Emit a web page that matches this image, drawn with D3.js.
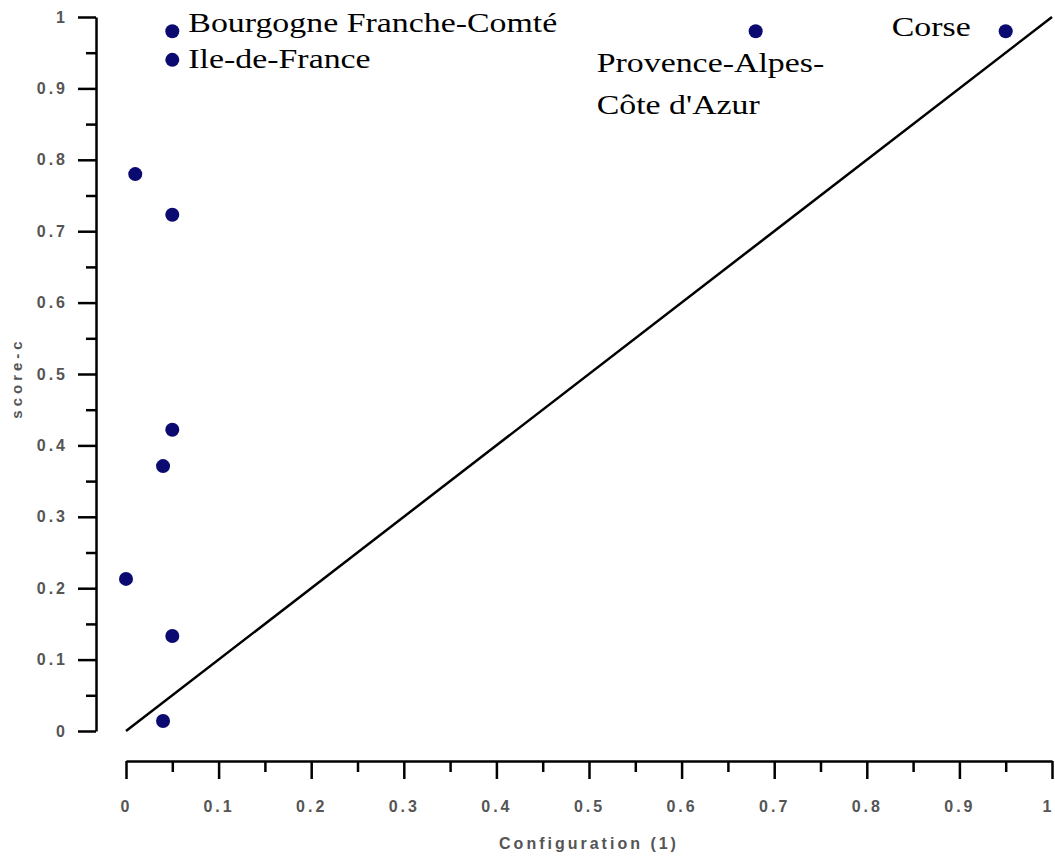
<!DOCTYPE html>
<html>
<head>
<meta charset="utf-8">
<script src="https://cdn.jsdelivr.net/npm/d3@7"></script>
<style>
  html, body { margin: 0; padding: 0; background: #fff; }
  svg { display: block; }
  .tick text, .axis-title { font-family: "Liberation Sans", Arial, sans-serif; fill: #555; font-weight: bold; }
  .point-label { font-family: "Liberation Serif", "Times New Roman", serif; font-size: 28px; fill: #000; }
</style>
</head>
<body>
<div class="chart"></div>
<script>
// values
var configX = [0.05, 0.05, 0.68, 0.95, 0.01, 0.05, 0.05, 0.04, 0, 0.05, 0.04];
var scoreC  = [0.98, 0.94, 0.98, 0.98, 0.78, 0.723, 0.422, 0.371, 0.213, 0.133, 0.014];
var regionNames = ["Bourgogne Franche-Comté", "Ile-de-France", "Provence-Alpes-Côte d'Azur", "Corse",
                   "", "", "", "", "", "", ""];

var majorTicks = [0, 0.1, 0.2, 0.3, 0.4, 0.5, 0.6, 0.7, 0.8, 0.9, 1];
var minorTicks = [0.05, 0.15, 0.25, 0.35, 0.45, 0.55, 0.65, 0.75, 0.85, 0.95];
var tickLabels = ["0", "0.1", "0.2", "0.3", "0.4", "0.5", "0.6", "0.7", "0.8", "0.9", "1"];
var diagonal = [0, 1];

var xTitle = "Configuration (1)";
var yTitle = "score-c";

function wrapper(){

  var w = 1055, h = 856;

  var svg = d3.select("div.chart")
              .append("svg")
              .attr("width", w)
              .attr("height", h);

  //scales
  var x = d3.scaleLinear().domain([0, 1]).range([126, 1052]);
  var y = d3.scaleLinear().domain([0, 1]).range([731, 17]);

  var axisX = 96;   // y axis sits left of the plot
  var axisY = 761;  // x axis sits under the plot

  var fmt = d => tickLabels[majorTicks.indexOf(d)];

  //y axis, major + minor ticks
  svg.append("g")
      .attr("transform", `translate(${axisX},0)`)
      .call(d3.axisLeft(y).tickValues(majorTicks).tickFormat(fmt)
              .tickSize(18).tickSizeOuter(0).tickPadding(10));
  svg.append("g")
      .attr("transform", `translate(${axisX},0)`)
      .call(d3.axisLeft(y).tickValues(minorTicks).tickFormat("")
              .tickSize(10).tickSizeOuter(0))
      .select(".domain").remove();

  //x axis
  var gx = svg.append("g")
      .attr("transform", `translate(0,${axisY})`)
      .call(d3.axisBottom(x).tickValues(majorTicks).tickFormat(fmt)
              .tickSize(18).tickSizeOuter(0).tickPadding(22));
  svg.append("g")
      .attr("transform", `translate(0,${axisY})`)
      .call(d3.axisBottom(x).tickValues(minorTicks).tickFormat("")
              .tickSize(11).tickSizeOuter(0))
      .select(".domain").remove();

  // last label sits on the right edge, nudge it in
  gx.selectAll(".tick text").filter(d => d === 1).attr("dx", -4);

  svg.selectAll(".domain, .tick line")
     .attr("stroke", "#000")
     .attr("stroke-width", 2.5);

  svg.selectAll(".tick text")
     .attr("font-size", 16)
     .attr("letter-spacing", "3px");

  //axis titles
  svg.append("text")
     .attr("class", "axis-title")
     .attr("x", 589)
     .attr("y", 849)
     .attr("text-anchor", "middle")
     .attr("font-size", 16)
     .attr("letter-spacing", "3px")
     .text(xTitle);

  svg.append("text")
     .attr("class", "axis-title")
     .attr("transform", "translate(22,378) rotate(-90)")
     .attr("text-anchor", "middle")
     .attr("font-size", 15)
     .attr("letter-spacing", "4px")
     .text(yTitle);

  //diagonal reference line
  svg.append("path")
     .datum(diagonal)
     .attr("d", d3.line().x(d => x(d)).y(d => y(d)))
     .attr("fill", "none")
     .attr("stroke", "#000")
     .attr("stroke-width", 2.5);

  var points = configX.map((v, i) => ({ x: v, y: scoreC[i], name: regionNames[i] }));

  //dots
  svg.append("g")
     .selectAll("circle")
     .data(points)
     .enter()
     .append("circle")
        .attr("cx", d => x(d.x))
        .attr("cy", d => y(d.y))
        .attr("r", 7)
        .attr("fill", "#0a0a70");

  //labels, hand placed around their dot
  var placement = {
    "Bourgogne Franche-Comté":   { dx: 16,   dy: 1, anchor: "start", lines: ["Bourgogne Franche-Comté"] },
    "Ile-de-France":             { dx: 16,   dy: 8, anchor: "start", lines: ["Ile-de-France"] },
    "Provence-Alpes-Côte d'Azur":{ dx: -159, dy: 41, anchor: "start", lines: ["Provence-Alpes-", "Côte d'Azur"] },
    "Corse":                     { dx: -35,  dy: 5, anchor: "end", lines: ["Corse"] }
  };

  var labelled = points.filter(d => d.name);
  var labels = svg.append("g")
     .selectAll("text")
     .data(labelled)
     .enter()
     .append("text")
        .attr("class", "point-label")
        .attr("text-anchor", d => placement[d.name].anchor)
        .attr("transform", d => `translate(${x(d.x) + placement[d.name].dx},${y(d.y) + placement[d.name].dy}) scale(1.21,1)`);

  labels.each(function(d){
    var t = d3.select(this);
    placement[d.name].lines.forEach(function(line, i){
      t.append("tspan")
       .attr("x", 0)
       .attr("y", i * 42)
       .text(line);
    });
  });
}
window.onload = wrapper;
</script>
</body>
</html>
